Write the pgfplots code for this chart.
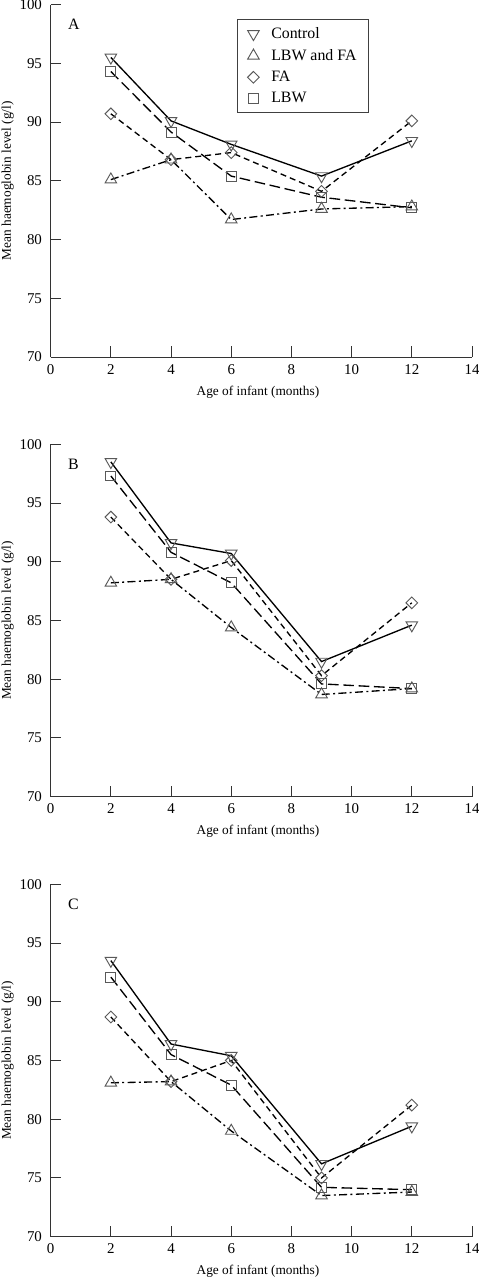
\documentclass[border=0pt]{standalone}
\usepackage{fontspec}
\setmainfont{Liberation Serif}
\usepackage{pgfplots}
\pgfplotsset{compat=1.18}
\usepackage{pgfplotstable}

\pgfplotstableread{
x ctrl lbwfa fa lbw
2 95.5 85.1 90.7 94.3
4 90.1 86.8 86.8 89.15
6 88.1 81.7 87.4 85.4
9 85.4 82.6 84.1 83.6
12 88.4 82.8 90.1 82.7
}\dataA
\pgfplotstableread{
x ctrl lbwfa fa lbw
2 98.5 88.2 93.8 97.3
4 91.6 88.5 88.5 90.8
6 90.7 84.4 90.1 88.2
9 81.5 78.7 80.3 79.6
12 84.6 79.2 86.5 79.2
}\dataB
\pgfplotstableread{
x ctrl lbwfa fa lbw
2 93.5 83.1 88.7 92.1
4 86.4 83.2 83.2 85.5
6 85.4 79.0 85.0 82.9
9 76.2 73.5 75.0 74.2
12 79.4 73.8 81.2 74.0
}\dataC

\definecolor{mk}{gray}{0.35}
\pgfplotsset{
  panel/.style={
    width=316pt, height=264.3pt, scale only axis,
    anchor=south west,
    xmin=0, xmax=14, ymin=70, ymax=100,
    xtick={0,2,...,14}, ytick={70,75,...,100},
    axis x line=bottom, axis y line=left,
    axis line style={-, black!80, line width=0.7pt},
    tick align=inside, major tick length=8pt,
    tick style={black!80, line width=0.7pt},
    /pgf/number format/assume math mode=true,
    tick label style={font=\fontsize{11.2}{13}\selectfont},
    xticklabel style={yshift=-2pt},
    yticklabel style={xshift=-3pt},
    label style={font=\fontsize{11.9}{14}\selectfont},
    xlabel={Age of infant (months)},
    ylabel={Mean haemoglobin level (g/l)},
    every axis x label/.style={at={(axis description cs:0.492,-0.0993)}, anchor=center},
    every axis y label/.style={at={(axis description cs:-0.102,0.5)}, rotate=90, anchor=center},
    clip=false,
  },
  ctrlst/.style={black, line width=1pt, solid, mark=triangle, mark size=5pt,
     mark options={rotate=180, solid, draw=mk, fill=white, line width=0.7pt}},
  lbwfast/.style={black, line width=1pt, dash pattern=on 6pt off 2.5pt on 1.5pt off 2.5pt, mark=triangle, mark size=5pt,
     mark options={solid, draw=mk, fill=white, line width=0.7pt}},
  fast/.style={black, line width=1pt, dash pattern=on 4.5pt off 3pt, mark=square, mark size=3.1pt,
     mark options={rotate=45, solid, draw=mk, fill=white, line width=0.7pt}},
  lbwst/.style={black, line width=1pt, dash pattern=on 8pt off 3.5pt, mark=square, mark size=3.7pt,
     mark options={solid, draw=mk, fill=white, line width=0.7pt}},
  mkleg/.style={legend image code/.code={%
     \draw[##1] plot coordinates {(0.32cm,0cm)};
     \path[draw=none, fill=none] (0cm,0cm) rectangle (0.72cm,0cm);}},
}

\begin{document}
\begin{tikzpicture}
\useasboundingbox (0,0) rectangle (358.5pt,960pt);

% Panel A
\begin{axis}[panel, at={(38pt,692.25pt)},
  legend style={at={(0.442,0.959)}, anchor=north west, draw=black!75, line width=0.6pt,
    font=\fontsize{11.9}{14}\selectfont, row sep=2.6pt, inner xsep=3pt, inner ysep=4pt,
    cells={anchor=west}},
  legend cell align=left]
\addlegendimage{mkleg, mark=triangle, mark size=5pt, mark options={rotate=180, draw=mk, fill=white, line width=0.7pt}}
\addlegendentry{\makebox[68pt][l]{Control}}
\addlegendimage{mkleg, mark=triangle, mark size=5pt, mark options={draw=mk, fill=white, line width=0.7pt}}
\addlegendentry{LBW and FA}
\addlegendimage{mkleg, mark=square, mark size=3.1pt, mark options={rotate=45, draw=mk, fill=white, line width=0.7pt}}
\addlegendentry{FA}
\addlegendimage{mkleg, mark=square, mark size=3.7pt, mark options={draw=mk, fill=white, line width=0.7pt}}
\addlegendentry{LBW}
\addplot[lbwfast, forget plot] table[x=x, y=lbwfa] {\dataA};
\addplot[lbwst, forget plot] table[x=x, y=lbw] {\dataA};
\addplot[fast, forget plot] table[x=x, y=fa] {\dataA};
\addplot[ctrlst, forget plot] table[x=x, y=ctrl] {\dataA};
\node[anchor=west, font=\fontsize{11.9}{14}\selectfont] at (axis cs:0.42,98.3) {A};
\end{axis}

% Panel B
\begin{axis}[panel, at={(38pt,362.5pt)}]
\addplot[lbwfast] table[x=x, y=lbwfa] {\dataB};
\addplot[lbwst] table[x=x, y=lbw] {\dataB};
\addplot[fast] table[x=x, y=fa] {\dataB};
\addplot[ctrlst] table[x=x, y=ctrl] {\dataB};
\node[anchor=west, font=\fontsize{11.9}{14}\selectfont] at (axis cs:0.42,98.3) {B};
\end{axis}

% Panel C
\begin{axis}[panel, at={(38pt,32.5pt)}]
\addplot[lbwfast] table[x=x, y=lbwfa] {\dataC};
\addplot[lbwst] table[x=x, y=lbw] {\dataC};
\addplot[fast] table[x=x, y=fa] {\dataC};
\addplot[ctrlst] table[x=x, y=ctrl] {\dataC};
\node[anchor=west, font=\fontsize{11.9}{14}\selectfont] at (axis cs:0.42,98.3) {C};
\end{axis}
\end{tikzpicture}
\end{document}
